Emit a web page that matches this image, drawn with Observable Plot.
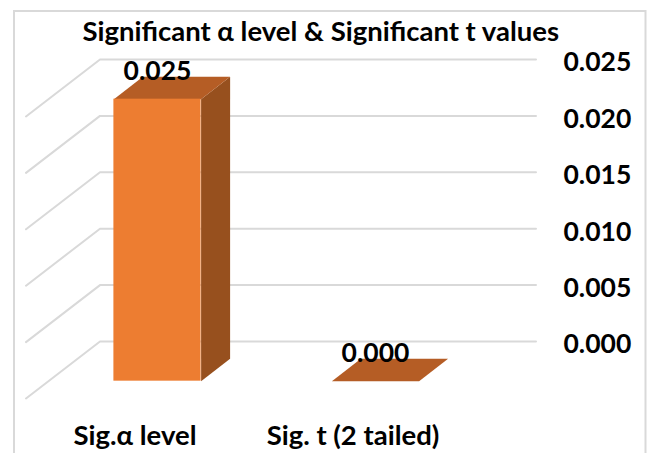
<!DOCTYPE html>
<html>
<head>
<meta charset="utf-8">
<script src="https://cdn.jsdelivr.net/npm/d3@7"></script>
<script src="https://cdn.jsdelivr.net/npm/@observablehq/plot@0.6"></script>
<style>
html, body { margin: 0; padding: 0; background: #fff; }
svg { display: block; }
</style>
</head>
<body>
<div id="chart"></div>
<script>
const titleText = "Significant α level & Significant t values";
const categories = ["Sig.α level", "Sig. t (2 tailed)"];
const values = [0.025, 0.0];
const valueLabels = ["0.025", "0.000"];
const yTicks = [0, 0.005, 0.01, 0.015, 0.02, 0.025];

const FONT = "Lato, 'Open Sans', sans-serif";
const GRID = "#d9d9d9";
const FRONT = "#ed7d31", TOP = "#b55d25", SIDE = "#97501e";

// Oblique projection: a depth of 1 shifts a point by these amounts, in data units.
const skewX = 74 / 218, skewY = 57 / 11280;
const depth0 = 0.304, depth1 = 0.696, barWidth = 0.4;
const X = (c, d) => c + d * skewX;
const Y = (v, d) => v + d * skewY;

const gridPoints = yTicks.flatMap((t) => [
  {tick: t, x: X(0, 0), y: Y(t, 0)},
  {tick: t, x: X(0, 1), y: Y(t, 1)},
  {tick: t, x: X(2, 1), y: Y(t, 1)}
]);

const bars = values.map((v, i) => ({
  v, label: valueLabels[i],
  left: i + 0.5 - barWidth / 2,
  right: i + 0.5 + barWidth / 2,
  center: i + 0.5
}));

const topFace = bars.flatMap((b, i) => [
  {id: i, x: X(b.left, depth0), y: Y(b.v, depth0)},
  {id: i, x: X(b.right, depth0), y: Y(b.v, depth0)},
  {id: i, x: X(b.right, depth1), y: Y(b.v, depth1)},
  {id: i, x: X(b.left, depth1), y: Y(b.v, depth1)}
]);
const sideFace = bars.filter((b) => b.v > 0).flatMap((b, i) => [
  {id: i, x: X(b.right, depth0), y: Y(0, depth0)},
  {id: i, x: X(b.right, depth1), y: Y(0, depth1)},
  {id: i, x: X(b.right, depth1), y: Y(b.v, depth1)},
  {id: i, x: X(b.right, depth0), y: Y(b.v, depth0)}
]);

const plot = Plot.plot({
  width: 651,
  height: 453,
  marginLeft: 13.5,
  marginTop: 10.5,
  marginRight: 6,
  marginBottom: -6,
  style: {background: "#fff", fontFamily: FONT, overflow: "hidden"},
  x: {domain: [0, 2], range: [25.5, 461.5]},
  y: {domain: [0, 0.025], range: [398, 116]},
  marks: [
    Plot.frame({stroke: GRID, strokeWidth: 2}),
    Plot.line(gridPoints, {x: "x", y: "y", z: "tick", stroke: GRID, strokeWidth: 2}),
    Plot.line(sideFace, {x: "x", y: "y", z: "id", fill: SIDE, curve: "linear-closed", stroke: null}),
    Plot.line(topFace, {x: "x", y: "y", z: "id", fill: TOP, curve: "linear-closed", stroke: null}),
    Plot.rect(bars.filter((b) => b.v > 0), {
      x1: (b) => X(b.left, depth0), x2: (b) => X(b.right, depth0),
      y1: () => Y(0, depth0), y2: (b) => Y(b.v, depth0), fill: FRONT
    }),
    Plot.text(bars, {
      x: (b) => X(b.center, depth0), y: (b) => Y(b.v, depth0), text: "label",
      dy: -27.5, fontSize: 26.5, fontWeight: 700, fill: "#000", fontFamily: FONT
    }),
    Plot.axisY(yTicks, {
      anchor: "right", label: null, tickSize: 0, tickPadding: 0, tickFormat: ".3f",
      dx: -82, dy: -53.5, fontSize: 26.5, fontWeight: 700, fill: "#000", fontFamily: FONT
    }),
    Plot.axisX([0.5, 1.5], {
      anchor: "bottom", label: null, tickSize: 0, tickPadding: 0,
      tickFormat: (d) => categories[Math.floor(d)],
      lineAnchor: "middle", dy: -23, fontSize: 27.5, fontWeight: 700, fill: "#000", fontFamily: FONT
    }),
    Plot.text([titleText], {
      frameAnchor: "top", dx: -9, dy: 21, lineAnchor: "middle",
      fontSize: 27.5, fontWeight: 700, fill: "#000", fontFamily: FONT
    })
  ]
});
document.getElementById("chart").append(plot);
</script>
</body>
</html>
